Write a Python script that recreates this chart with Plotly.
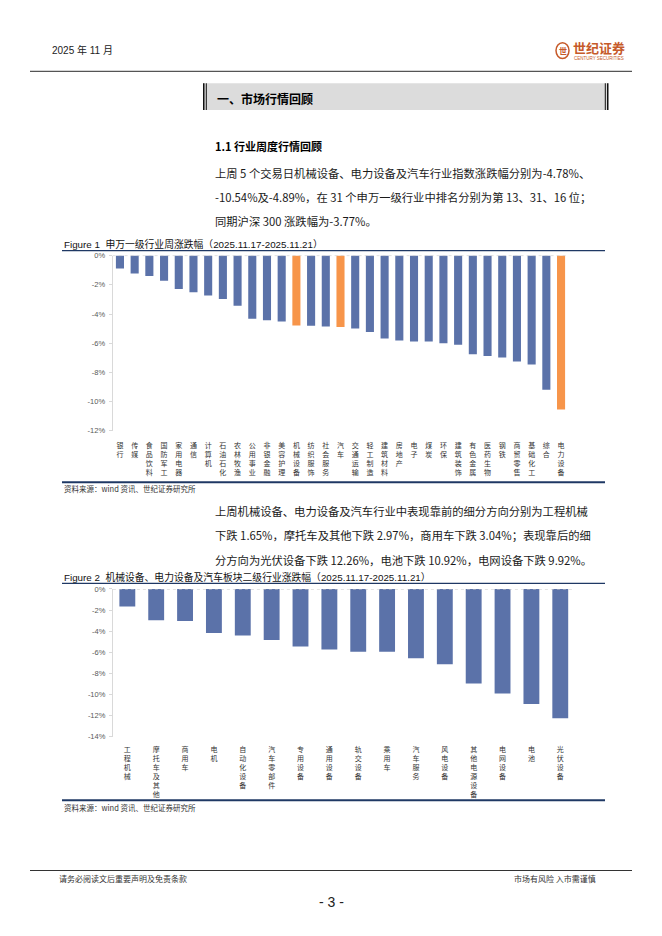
import plotly.graph_objects as go

# page coordinates (reference pixels); the browser body adds an 8px margin
W, H = 662, 936
OFF = 8
FW, FH = W - 2 * OFF, H - 2 * OFF


def px(x):
    return (x - OFF) / FW


def py(y):
    return 1 - (y - OFF) / FH


# ---------------- data ----------------
sw1_industries = ["银行", "传媒", "食品饮料", "国防军工", "家用电器", "通信", "计算机", "石油石化",
                  "农林牧渔", "公用事业", "非银金融", "美容护理", "机械设备", "纺织服饰", "社会服务",
                  "汽车", "交通运输", "轻工制造", "建筑材料", "房地产", "电子", "煤炭", "环保",
                  "建筑装饰", "有色金属", "医药生物", "钢铁", "商贸零售", "基础化工", "综合", "电力设备"]
sw1_weekly_pct = [-0.88, -1.22, -1.40, -1.72, -2.28, -2.51, -2.73, -2.98,
                  -3.43, -4.32, -4.43, -4.52, -4.78, -4.81, -4.86,
                  -4.89, -4.99, -5.24, -5.67, -5.81, -5.88, -5.89, -6.01,
                  -6.10, -6.76, -6.87, -6.98, -7.25, -7.46, -9.18, -10.54]
focus_industries = ["机械设备", "电力设备", "汽车"]

sub_industries = ["工程机械", "摩托车及其他", "商用车", "电机", "自动化设备", "汽车零部件", "专用设备",
                  "通用设备", "轨交设备", "乘用车", "汽车服务", "风电设备", "其他电源设备", "电网设备",
                  "电池", "光伏设备"]
sub_weekly_pct = [-1.65, -2.97, -3.04, -4.17, -4.42, -4.85, -5.45,
                  -5.73, -5.95, -5.96, -6.58, -7.14, -8.96, -9.92,
                  -10.92, -12.26]

y1_ticks = [0, -2, -4, -6, -8, -10, -12]
y2_ticks = [0, -2, -4, -6, -8, -10, -12, -14]

BLUE = "#5B72A9"
ORANGE = "#F7954A"
NAVY = "#1F3864"
CJK = "Noto Sans CJK SC"
LAT = "Liberation Sans, Noto Sans CJK SC"


def vert(s):
    return "<br>".join(list(s))


fig = go.Figure()

fig.add_trace(go.Bar(
    x=sw1_industries, y=sw1_weekly_pct,
    marker=dict(color=[ORANGE if n in focus_industries else BLUE for n in sw1_industries], line=dict(width=0)),
    xaxis="x", yaxis="y", showlegend=False, hoverinfo="x+y",
))
fig.add_trace(go.Bar(
    x=sub_industries, y=sub_weekly_pct,
    marker=dict(color=BLUE, line=dict(width=0)),
    xaxis="x2", yaxis="y2", showlegend=False, hoverinfo="x+y",
))

tickfont_y = dict(family=LAT, size=7.5, color="#595959")

fig.update_layout(
    width=FW, height=FH,
    margin=dict(l=0, r=0, t=0, b=0),
    paper_bgcolor="white", plot_bgcolor="white",
    bargap=0.45,
    xaxis=dict(domain=[px(112.6), px(568.4)], anchor="y", type="category",
               tickvals=sw1_industries, ticktext=[vert(s) for s in sw1_industries],
               tickfont=dict(family=CJK, size=7, color="#333333"),
               showline=False, showgrid=False, zeroline=False,
               ticks="", ticklabelstandoff=9, tickangle=0, fixedrange=True),
    yaxis=dict(domain=[py(431), py(254)], anchor="x", range=[-12, 0],
               tickvals=y1_ticks, ticktext=[f"{v}%" for v in y1_ticks],
               tickfont=tickfont_y, showline=True, linecolor="#D9D9D9", linewidth=1,
               ticks="outside", ticklen=3, tickcolor="#D9D9D9",
               showgrid=False, zeroline=False, ticklabelstandoff=2, fixedrange=True),
    xaxis2=dict(domain=[px(112.9), px(574.7)], anchor="y2", type="category",
                tickvals=sub_industries, ticktext=[vert(s) for s in sub_industries],
                tickfont=dict(family=CJK, size=7, color="#333333"),
                showline=False, showgrid=False, zeroline=False,
                ticks="", ticklabelstandoff=7, tickangle=0, fixedrange=True),
    yaxis2=dict(domain=[py(739.7), py(590.7)], anchor="x2", range=[-14, 0],
                tickvals=y2_ticks, ticktext=[f"{v}%" for v in y2_ticks],
                tickfont=tickfont_y, showline=True, linecolor="#D9D9D9", linewidth=1,
                ticks="outside", ticklen=3, tickcolor="#D9D9D9",
                showgrid=False, zeroline=False, ticklabelstandoff=2, fixedrange=True),
)

shapes = []
# dotted zero lines (category axes at 0)
shapes.append(dict(type="line", xref="x domain", yref="y", x0=0, x1=1, y0=0, y1=0,
                   line=dict(color="#C8C8C8", width=1, dash="dot")))
shapes.append(dict(type="line", xref="x2 domain", yref="y2", x0=0, x1=1, y0=0, y1=0,
                   line=dict(color="#C8C8C8", width=1, dash="dot")))


def hline(x0, x1, y, color, width):
    shapes.append(dict(type="line", xref="paper", yref="paper", x0=px(x0), x1=px(x1),
                       y0=py(y), y1=py(y), line=dict(color=color, width=width)))


def rect(x0, y0, x1, y1, fill, lc=None, lw=0):
    shapes.append(dict(type="rect", xref="paper", yref="paper", x0=px(x0), x1=px(x1),
                       y0=py(y1), y1=py(y0), fillcolor=fill,
                       line=dict(color=lc or fill, width=lw), layer="below"))


# header line
hline(30, 632, 68, "#555555", 1.2)
# section heading box
rect(203, 80, 608, 107, "#DCDCDC")
rect(203, 80, 204.5, 107, "#111111")
rect(205.8, 80, 206.8, 107, "#111111")
rect(604.8, 80, 605.8, 107, "#111111")
rect(607, 80, 608.5, 107, "#111111")
# figure 1 frame lines
hline(62, 605, 249, NAVY, 1.3)
hline(62, 605, 483, NAVY, 2)
# figure 2 frame lines
hline(62, 605, 585, NAVY, 1.3)
hline(62, 605, 804, NAVY, 2)
# footer line
hline(30, 632, 875, "#333333", 1.2)
# logo emblem
shapes.append(dict(type="circle", xref="paper", yref="paper", x0=px(556), x1=px(569),
                   y0=py(55), y1=py(39), line=dict(color="#C65A2A", width=1.5), fillcolor="white"))

annotations = []


def text(x, y, s, size, family=CJK, color="#1a1a1a", anchor="left", bold=False, yanchor="middle"):
    if bold:
        s = f"<b>{s}</b>"
    annotations.append(dict(xref="paper", yref="paper", x=px(x), y=py(y), text=s, showarrow=False,
                            xanchor=anchor, yanchor=yanchor,
                            font=dict(family=family, size=size, color=color)))


text(50, 46, "2025 年 11 月", 10, family=LAT, color="#222222")
text(562.5, 47, "世", 8, color="#C65A2A", anchor="center", bold=True)
text(571, 44, "世纪证券", 13, color="#C65A2A", bold=True)
text(572, 55, "CENTURY SECURITIES", 4.5, family=LAT, color="#C65A2A")

text(215, 95, "一、市场行情回顾", 12, color="#000000", bold=True)
text(213, 143, "1.1 行业周度行情回顾", 11, color="#000000", bold=True)

para1 = ["上周 5 个交易日机械设备、电力设备及汽车行业指数涨跌幅分别为-4.78%、",
         "-10.54%及-4.89%，在 31 个申万一级行业中排名分别为第 13、31、16 位；",
         "同期沪深 300 涨跌幅为-3.77%。"]
for i, line in enumerate(para1):
    text(213, 171 + 24 * i, line, 11.3)

text(62, 242, "Figure 1  申万一级行业周涨跌幅（2025.11.17-2025.11.21）", 9.8, family=LAT, color="#111111")
text(62, 489, "资料来源：wind 资讯、世纪证券研究所", 7.5, color="#333333")

para2 = ["上周机械设备、电力设备及汽车行业中表现靠前的细分方向分别为工程机械",
         "下跌 1.65%，摩托车及其他下跌 2.97%，商用车下跌 3.04%；表现靠后的细",
         "分方向为光伏设备下跌 12.26%，电池下跌 10.92%，电网设备下跌 9.92%。"]
for i, line in enumerate(para2):
    text(213, 512 + 24.5 * i, line, 11.3)

text(62, 579, "Figure 2  机械设备、电力设备及汽车板块二级行业涨跌幅（2025.11.17-2025.11.21）", 9.8,
     family=LAT, color="#111111")
text(62, 811, "资料来源：wind 资讯、世纪证券研究所", 7.5, color="#333333")

text(57, 883, "请务必阅读文后重要声明及免责条款", 8, color="#333333")
text(598, 883, "市场有风险 入市需谨慎", 8, color="#333333", anchor="right")
text(331, 907, "- 3 -", 14, family=LAT, color="#222222", anchor="center")

fig.update_layout(shapes=shapes, annotations=annotations)

fig.write_html("out.html")
